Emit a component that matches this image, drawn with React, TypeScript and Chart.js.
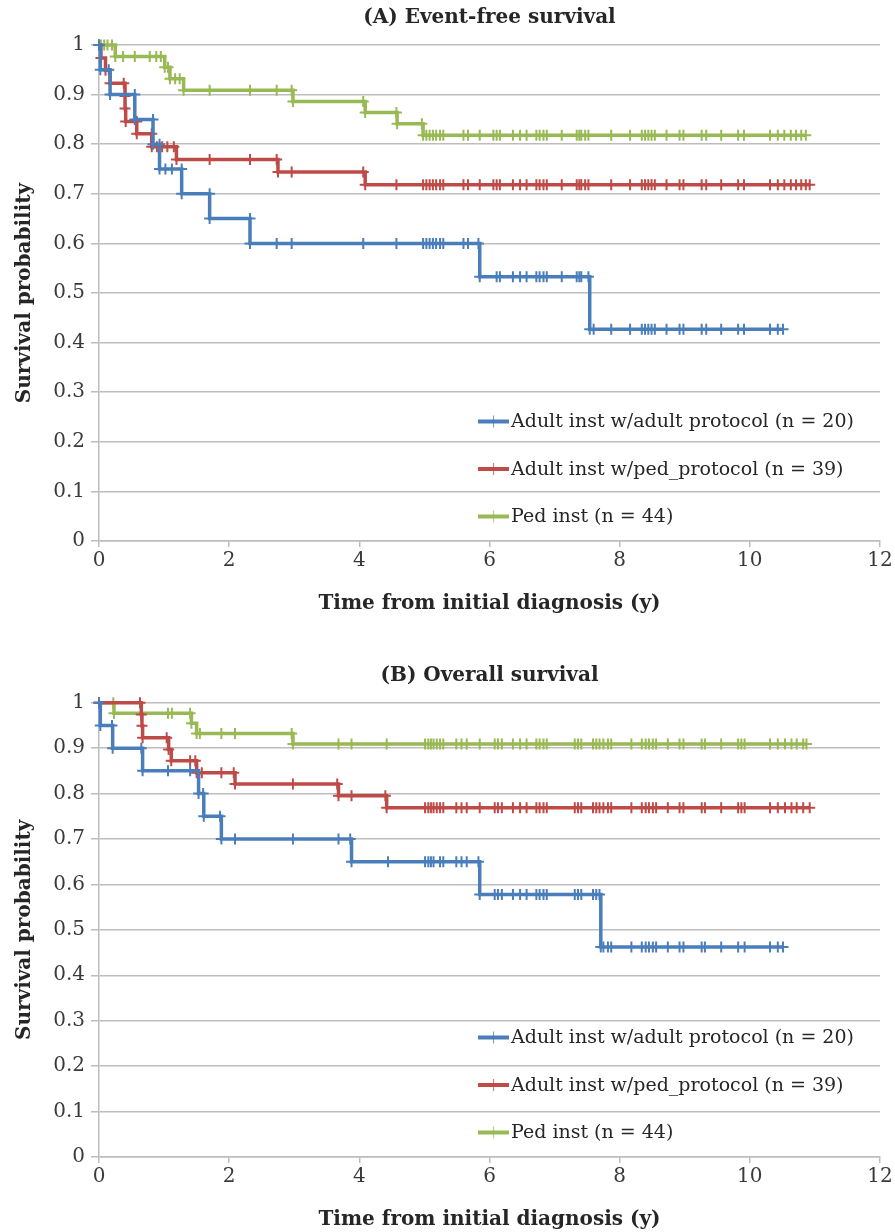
import React, { useEffect, useRef } from 'react';
import { Chart, registerables } from 'chart.js';

Chart.register(...registerables);

// ---------- data ----------
const seriesLabels = [
  'Adult inst w/adult protocol (n = 20)',
  'Adult inst w/ped_protocol (n = 39)',
  'Ped inst (n = 44)',
];
const seriesColors = ['#4A7EBB', '#BE4B48', '#98B954'];
const xTickValues = [0, 2, 4, 6, 8, 10, 12];
const yTickValues = [0, 0.1, 0.2, 0.3, 0.4, 0.5, 0.6, 0.7, 0.8, 0.9, 1];

// (A) Event-free survival: [time (y), survival probability]
const efsAdultAdult: [number, number][] = [
  [0, 1], [0.02, 0.95], [0.15, 0.95], [0.17, 0.9], [0.55, 0.9], [0.55, 0.85], [0.83, 0.85], [0.83, 0.8],
  [0.93, 0.8], [0.93, 0.75], [1.02, 0.75], [1.12, 0.75], [1.27, 0.75], [1.27, 0.7], [1.7, 0.7], [1.7, 0.65],
  [2.32, 0.65], [2.32, 0.6], [2.73, 0.6], [2.96, 0.6], [4.06, 0.6], [4.57, 0.6], [4.98, 0.6], [5.03, 0.6],
  [5.08, 0.6], [5.13, 0.6], [5.18, 0.6], [5.24, 0.6], [5.29, 0.6], [5.6, 0.6], [5.67, 0.6], [5.83, 0.6],
  [5.85, 0.533], [6.11, 0.533], [6.16, 0.533], [6.36, 0.533], [6.47, 0.533], [6.57, 0.533], [6.72, 0.533],
  [6.77, 0.533], [6.83, 0.533], [6.88, 0.533], [7.11, 0.533], [7.34, 0.533], [7.38, 0.533], [7.41, 0.533],
  [7.52, 0.533], [7.54, 0.427], [7.6, 0.427], [7.87, 0.427], [8.16, 0.427], [8.34, 0.427], [8.39, 0.427],
  [8.44, 0.427], [8.49, 0.427], [8.54, 0.427], [8.72, 0.427], [8.92, 0.427], [8.98, 0.427], [9.26, 0.427],
  [9.33, 0.427], [9.56, 0.427], [9.82, 0.427], [9.91, 0.427], [10.31, 0.427], [10.43, 0.427], [10.51, 0.427],
];
const efsAdultPed: [number, number][] = [
  [0, 1], [0.03, 0.974], [0.1, 0.949], [0.17, 0.923], [0.38, 0.923], [0.4, 0.897], [0.4, 0.872], [0.41, 0.846],
  [0.58, 0.846], [0.58, 0.821], [0.81, 0.821], [0.81, 0.795], [0.89, 0.795], [0.97, 0.795], [1.05, 0.795],
  [1.15, 0.795], [1.19, 0.769], [1.7, 0.769], [2.32, 0.769], [2.73, 0.769], [2.75, 0.744], [2.96, 0.744],
  [4.06, 0.744], [4.09, 0.718], [4.57, 0.718], [4.98, 0.718], [5.03, 0.718], [5.08, 0.718], [5.13, 0.718],
  [5.18, 0.718], [5.24, 0.718], [5.29, 0.718], [5.6, 0.718], [5.67, 0.718], [5.85, 0.718], [6.06, 0.718],
  [6.11, 0.718], [6.16, 0.718], [6.36, 0.718], [6.47, 0.718], [6.57, 0.718], [6.72, 0.718], [6.77, 0.718],
  [6.83, 0.718], [6.88, 0.718], [7.11, 0.718], [7.34, 0.718], [7.38, 0.718], [7.41, 0.718], [7.47, 0.718],
  [7.52, 0.718], [7.87, 0.718], [8.16, 0.718], [8.34, 0.718], [8.39, 0.718], [8.44, 0.718], [8.49, 0.718],
  [8.54, 0.718], [8.72, 0.718], [8.92, 0.718], [8.98, 0.718], [9.26, 0.718], [9.33, 0.718], [9.56, 0.718],
  [9.82, 0.718], [9.91, 0.718], [10.31, 0.718], [10.43, 0.718], [10.53, 0.718], [10.63, 0.718], [10.71, 0.718],
  [10.79, 0.718], [10.86, 0.718], [10.92, 0.718],
];
const efsPedInst: [number, number][] = [
  [0, 1], [0.03, 1], [0.08, 1], [0.13, 1], [0.2, 1], [0.25, 0.977], [0.37, 0.977], [0.55, 0.977], [0.78, 0.977],
  [0.88, 0.977], [0.95, 0.977], [1.01, 0.955], [1.06, 0.955], [1.09, 0.932], [1.17, 0.932], [1.24, 0.932],
  [1.3, 0.909], [1.7, 0.909], [2.32, 0.909], [2.73, 0.909], [2.96, 0.909], [2.98, 0.886], [4.06, 0.886],
  [4.09, 0.864], [4.57, 0.864], [4.58, 0.841], [4.96, 0.841], [4.98, 0.818], [5.03, 0.818], [5.08, 0.818],
  [5.13, 0.818], [5.18, 0.818], [5.24, 0.818], [5.29, 0.818], [5.6, 0.818], [5.67, 0.818], [5.85, 0.818],
  [6.06, 0.818], [6.11, 0.818], [6.16, 0.818], [6.36, 0.818], [6.47, 0.818], [6.57, 0.818], [6.72, 0.818],
  [6.77, 0.818], [6.83, 0.818], [6.88, 0.818], [7.11, 0.818], [7.34, 0.818], [7.38, 0.818], [7.41, 0.818],
  [7.47, 0.818], [7.52, 0.818], [7.87, 0.818], [8.16, 0.818], [8.34, 0.818], [8.39, 0.818], [8.44, 0.818],
  [8.49, 0.818], [8.54, 0.818], [8.72, 0.818], [8.92, 0.818], [8.98, 0.818], [9.26, 0.818], [9.33, 0.818],
  [9.56, 0.818], [9.82, 0.818], [9.91, 0.818], [10.31, 0.818], [10.43, 0.818], [10.53, 0.818], [10.63, 0.818],
  [10.71, 0.818], [10.79, 0.818], [10.86, 0.818],
];

// (B) Overall survival
const osAdultAdult: [number, number][] = [
  [0, 1], [0.02, 0.95], [0.2, 0.95], [0.21, 0.9], [0.65, 0.9], [0.67, 0.85], [1.06, 0.85], [1.4, 0.85],
  [1.53, 0.8], [1.6, 0.8], [1.61, 0.75], [1.86, 0.75], [1.88, 0.7], [2.09, 0.7], [2.98, 0.7], [3.68, 0.7],
  [3.86, 0.7], [3.88, 0.65], [4.44, 0.65], [5.01, 0.65], [5.06, 0.65], [5.1, 0.65], [5.14, 0.65], [5.24, 0.65],
  [5.29, 0.65], [5.49, 0.65], [5.57, 0.65], [5.65, 0.65], [5.83, 0.65], [5.85, 0.578], [6.08, 0.578],
  [6.13, 0.578], [6.19, 0.578], [6.36, 0.578], [6.47, 0.578], [6.57, 0.578], [6.72, 0.578], [6.77, 0.578],
  [6.83, 0.578], [6.88, 0.578], [7.31, 0.578], [7.36, 0.578], [7.41, 0.578], [7.59, 0.578], [7.64, 0.578],
  [7.69, 0.578], [7.71, 0.462], [7.75, 0.462], [7.82, 0.462], [7.87, 0.462], [8.18, 0.462], [8.34, 0.462],
  [8.4, 0.462], [8.45, 0.462], [8.51, 0.462], [8.56, 0.462], [8.74, 0.462], [8.92, 0.462], [8.98, 0.462],
  [9.26, 0.462], [9.31, 0.462], [9.56, 0.462], [9.82, 0.462], [9.92, 0.462], [10.31, 0.462], [10.43, 0.462],
  [10.51, 0.462],
];
const osAdultPed: [number, number][] = [
  [0, 1], [0.63, 1], [0.65, 0.974], [0.66, 0.949], [0.67, 0.923], [1.04, 0.923], [1.07, 0.897], [1.11, 0.872],
  [1.4, 0.872], [1.48, 0.872], [1.5, 0.846], [1.58, 0.846], [1.88, 0.846], [2.07, 0.846], [2.09, 0.821],
  [2.98, 0.821], [3.66, 0.821], [3.68, 0.795], [3.88, 0.795], [4.4, 0.795], [4.42, 0.769], [5.01, 0.769],
  [5.06, 0.769], [5.1, 0.769], [5.14, 0.769], [5.19, 0.769], [5.24, 0.769], [5.29, 0.769], [5.49, 0.769],
  [5.57, 0.769], [5.65, 0.769], [5.85, 0.769], [6.08, 0.769], [6.13, 0.769], [6.19, 0.769], [6.36, 0.769],
  [6.47, 0.769], [6.57, 0.769], [6.72, 0.769], [6.77, 0.769], [6.83, 0.769], [6.88, 0.769], [7.31, 0.769],
  [7.36, 0.769], [7.41, 0.769], [7.59, 0.769], [7.64, 0.769], [7.69, 0.769], [7.75, 0.769], [7.82, 0.769],
  [7.87, 0.769], [8.18, 0.769], [8.34, 0.769], [8.4, 0.769], [8.45, 0.769], [8.51, 0.769], [8.56, 0.769],
  [8.74, 0.769], [8.92, 0.769], [8.98, 0.769], [9.26, 0.769], [9.31, 0.769], [9.56, 0.769], [9.82, 0.769],
  [9.87, 0.769], [9.92, 0.769], [10.31, 0.769], [10.43, 0.769], [10.54, 0.769], [10.64, 0.769], [10.72, 0.769],
  [10.82, 0.769], [10.92, 0.769],
];
const osPedInst: [number, number][] = [
  [0, 1], [0.22, 1], [0.23, 0.977], [0.66, 0.977], [1.06, 0.977], [1.12, 0.977], [1.4, 0.977], [1.42, 0.955],
  [1.5, 0.932], [1.55, 0.932], [1.88, 0.932], [2.09, 0.932], [2.96, 0.932], [2.98, 0.909], [3.68, 0.909],
  [3.88, 0.909], [4.42, 0.909], [5.01, 0.909], [5.06, 0.909], [5.1, 0.909], [5.14, 0.909], [5.19, 0.909],
  [5.24, 0.909], [5.29, 0.909], [5.49, 0.909], [5.57, 0.909], [5.65, 0.909], [5.85, 0.909], [6.08, 0.909],
  [6.13, 0.909], [6.19, 0.909], [6.36, 0.909], [6.47, 0.909], [6.57, 0.909], [6.72, 0.909], [6.77, 0.909],
  [6.83, 0.909], [6.88, 0.909], [7.31, 0.909], [7.36, 0.909], [7.41, 0.909], [7.59, 0.909], [7.64, 0.909],
  [7.69, 0.909], [7.75, 0.909], [7.82, 0.909], [7.87, 0.909], [8.18, 0.909], [8.34, 0.909], [8.4, 0.909],
  [8.45, 0.909], [8.51, 0.909], [8.56, 0.909], [8.74, 0.909], [8.92, 0.909], [8.98, 0.909], [9.26, 0.909],
  [9.31, 0.909], [9.56, 0.909], [9.82, 0.909], [9.87, 0.909], [9.92, 0.909], [10.31, 0.909], [10.43, 0.909],
  [10.54, 0.909], [10.64, 0.909], [10.72, 0.909], [10.82, 0.909], [10.87, 0.909],
];

// ---------- styling ----------
const SERIF = '"DejaVu Serif", "Liberation Serif", serif';
const GRID = '#BDBDBD';
const TEXT = '#262626';
const TICK_TEXT = '#3A3A3A';

const insideLegend = {
  id: 'insideLegend',
  afterDraw(chart: any, _args: any, opts: any) {
    const { ctx, chartArea } = chart;
    const items = chart.data.datasets;
    ctx.save();
    ctx.font = opts.font;
    ctx.textBaseline = 'middle';
    ctx.textAlign = 'left';
    items.forEach((ds: any, i: number) => {
      const y = chartArea.bottom - opts.bottomOffset - (items.length - 1 - i) * opts.rowGap;
      const x0 = opts.x;
      ctx.strokeStyle = ds.borderColor;
      ctx.lineWidth = opts.lineWidth;
      ctx.beginPath();
      ctx.moveTo(x0, y);
      ctx.lineTo(x0 + opts.lineLength, y);
      ctx.stroke();
      const cx = x0 + opts.lineLength / 2;
      ctx.lineWidth = 1.2;
      ctx.globalAlpha = 0.7;
      ctx.beginPath();
      ctx.moveTo(cx, y - 6);
      ctx.lineTo(cx, y + 6);
      ctx.stroke();
      ctx.globalAlpha = 1;
      ctx.fillStyle = opts.color;
      ctx.fillText(ds.label, x0 + opts.lineLength + opts.textGap, y + 1);
    });
    ctx.restore();
  },
};

type PanelProps = {
  title: string;
  series: [number, number][][];
  height: number;
  titleTopPad: number;
  titleBottomPad: number;
  xAxisHeight: number;
  xTitleBottomPad: number;
};

function Panel(p: PanelProps) {
  const ref = useRef<HTMLCanvasElement | null>(null);
  useEffect(() => {
    if (!ref.current) return;
    const chart = new Chart(ref.current, {
      type: 'line',
      data: {
        datasets: p.series.map((pts, i) => ({
          label: seriesLabels[i],
          data: pts.map(([x, y]) => ({ x, y })),
          borderColor: seriesColors[i],
          backgroundColor: seriesColors[i],
          borderWidth: 3.5,
          stepped: 'before',
          fill: false,
          pointStyle: 'cross',
          pointRadius: 5.5,
          pointBorderWidth: 2,
          pointBorderColor: seriesColors[i],
          clip: 12,
        })),
      },
      options: {
        animation: false,
        responsive: false,
        layout: { padding: { left: 0, right: 15, top: 0, bottom: 0 } },
        plugins: {
          legend: { display: false },
          tooltip: { enabled: false },
          title: {
            display: true,
            text: p.title,
            fullSize: false,
            color: TEXT,
            font: { family: SERIF, size: 20, weight: 'bold', lineHeight: 1.2 },
            padding: { top: p.titleTopPad, bottom: p.titleBottomPad },
          },
          insideLegend: {
            x: 478,
            bottomOffset: 24.5,
            rowGap: 47.5,
            lineLength: 31,
            lineWidth: 4,
            textGap: 2,
            font: `19px ${SERIF}`,
            color: TEXT,
          },
        } as any,
        scales: {
          x: {
            type: 'linear',
            min: 0,
            max: 12,
            afterBuildTicks: (s: any) => {
              s.ticks = xTickValues.map((v) => ({ value: v }));
            },
            ticks: {
              color: TICK_TEXT,
              font: { family: SERIF, size: 20 },
              padding: 2,
              maxRotation: 0,
            },
            grid: { drawOnChartArea: false, drawTicks: true, tickLength: 6, color: GRID, lineWidth: 1.5 },
            border: { display: true, color: GRID, width: 1.5 },
            title: {
              display: true,
              text: 'Time from initial diagnosis (y)',
              color: TEXT,
              font: { family: SERIF, size: 20, weight: 'bold', lineHeight: 1.2 },
              padding: { top: 0, bottom: p.xTitleBottomPad },
            },
            afterFit: (s: any) => {
              s.height = p.xAxisHeight;
            },
          },
          y: {
            type: 'linear',
            min: 0,
            max: 1,
            afterBuildTicks: (s: any) => {
              s.ticks = yTickValues.map((v) => ({ value: v }));
            },
            ticks: {
              color: TICK_TEXT,
              font: { family: SERIF, size: 20 },
              padding: 6,
              callback: (v: any) => String(Math.round(Number(v) * 10) / 10),
            },
            grid: { color: GRID, lineWidth: 1.5, tickLength: 8 },
            border: { display: true, color: GRID, width: 1.5 },
            title: {
              display: true,
              text: 'Survival probability',
              color: TEXT,
              font: { family: SERIF, size: 20, weight: 'bold', lineHeight: 1.2 },
              padding: { top: 13, bottom: 0 },
            },
            afterFit: (s: any) => {
              s.width = 99;
            },
          },
        },
      },
      plugins: [insideLegend],
    } as any);
    return () => chart.destroy();
  }, []);
  return <canvas ref={ref} width={895} height={p.height} style={{ display: 'block' }} />;
}

export default function App() {
  return (
    <div style={{ position: 'absolute', left: 0, top: 0, width: 895, height: 1232, background: '#fff' }}>
      <Panel
        title="(A) Event-free survival"
        series={[efsAdultAdult, efsAdultPed, efsPedInst]}
        height={640}
        titleTopPad={6}
        titleBottomPad={15}
        xAxisHeight={99}
        xTitleBottomPad={24}
      />
      <Panel
        title="(B) Overall survival"
        series={[osAdultAdult, osAdultPed, osPedInst]}
        height={592}
        titleTopPad={24}
        titleBottomPad={14.7}
        xAxisHeight={75}
        xTitleBottomPad={0}
      />
    </div>
  );
}
